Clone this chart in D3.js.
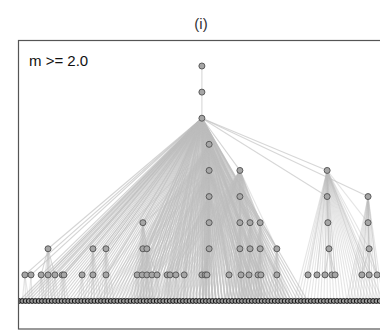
<!DOCTYPE html>
<html>
<head>
<meta charset="utf-8">
<script src="https://cdn.jsdelivr.net/npm/d3@7"></script>
<style>
  html, body { margin: 0; padding: 0; background: #fff; }
  svg { display: block; font-family: "Liberation Sans", Arial, sans-serif; }
</style>
</head>
<body>
<div id="chart"></div>
<script>
// node positions per level, in layout units (0-100 across the panel)
const level0 = [50.8];
const level1 = [50.8];
const level2 = [50.8];
const level3 = [52.8];
const level4 = [52.8, 61.3, 85.4];
const level5 = [52.8, 61.3, 85.4, 96.7];
const level6 = [34.5, 52.8, 61.3, 64.1, 66.9, 85.6, 96.7];
const level7 = [8.3, 20.7, 24.3, 34.5, 35.6, 52.8, 61.3, 64.1, 66.9, 71.5, 85.9, 97.0];
const level8 = [1.9, 3.6, 6.4, 8.3, 10.2, 12.2, 12.7, 17.7, 20.7, 24.3, 32.9, 34.3, 35.6, 37.0,
  38.4, 41.2, 42.0, 43.6, 45.9, 50.8, 51.7, 52.2, 58.3, 61.6, 63.8, 66.3, 67.1, 71.5,
  80.1, 82.6, 84.8, 86.7, 87.6, 95.0, 97.0, 99.2];
const leafCount = 112;
const upperLevels = [level0, level1, level2, level3, level4, level5, level6, level7, level8];

// which leaves each spreading node links to: [level, position, from, to]
const fans = [
  [2, 50.8, 0, 80],
  [3, 52.8, 22, 76],
  [4, 52.8, 32, 70],
  [4, 61.3, 42, 76],
  [5, 52.8, 38, 64],
  [4, 85.4, 76, 101],
  [5, 96.7, 90, 101]
];

const width = 380, height = 331;
const svg = d3.select('#chart').append('svg').attr('width', width).attr('height', height);

const x = d3.scaleLinear().domain([0, 100]).range([18, 380]);
const y = d3.scaleLinear().domain([0, 9]).range([66, 301]);
const leafX = d3.scalePoint().domain(d3.range(leafCount)).range([19, 383]);

const nodes = [];
upperLevels.forEach((lv, i) => lv.forEach(p => nodes.push({ level: i, pos: p, cx: x(p), cy: y(i) })));
const leaves = d3.range(leafCount).map(k => ({ level: 9, pos: x.invert(leafX(k)), cx: leafX(k), cy: y(9) }));
const find = (lv, p) => nodes.find(n => n.level === lv && n.pos === p);

const links = [];
// tree edges: straight down to a node one level up in the same column
nodes.filter(n => n.level > 0).forEach(n => {
  const ups = nodes.filter(m => m.level === n.level - 1);
  const p = d3.least(ups, m => Math.abs(m.pos - n.pos));
  if (Math.abs(p.pos - n.pos) < 3 || n.level <= 3) links.push({ s: p, t: n, w: 'tree' });
});
const hub = find(2, 50.8);
nodes.filter(n => n.level >= 4 && n.pos <= 72).forEach(n => links.push({ s: hub, t: n, w: 'hub' }));
nodes.filter(n => n.level >= 4 && n.level <= 5 && n.pos > 80).forEach(n => links.push({ s: hub, t: n, w: 'tree' }));
fans.forEach(([lv, p, from, to]) => {
  const src = find(lv, p);
  nodes.filter(n => n.level > lv + 1 && n.level < 9 && lv !== 2 && n.pos >= from && n.pos <= to)
    .forEach(n => links.push({ s: src, t: n, w: 'side' }));
  leaves.filter(l => l.pos >= from && l.pos <= to).forEach(l => links.push({ s: src, t: l, w: lv === 2 ? 'hub' : 'side' }));
});
// lower nodes fan out to the leaves just beneath them
nodes.filter(n => n.level >= 6 && n.level <= 8 && n.pos < 80).forEach(n => {
  const span = (9 - n.level) * 1.2;
  leaves.filter(l => Math.abs(l.pos - n.pos) <= span).forEach(l => links.push({ s: n, t: l, w: 'side' }));
});

const opacity = { hub: 0.65, tree: 0.6, side: 0.4 };

svg.append('defs').append('clipPath').attr('id', 'clip')
  .append('rect').attr('x', 18).attr('y', 40).attr('width', 370).attr('height', 289);

const plot = svg.append('g').attr('clip-path', 'url(#clip)');

plot.append('g').selectAll('line').data(links).join('line')
  .attr('x1', d => d.s.cx).attr('y1', d => d.s.cy)
  .attr('x2', d => d.t.cx).attr('y2', d => d.t.cy)
  .attr('stroke', '#bdbdbd').attr('stroke-opacity', d => opacity[d.w]).attr('stroke-width', 1.1);

plot.append('g').selectAll('circle').data(leaves).join('circle')
  .attr('cx', d => d.cx).attr('cy', d => d.cy).attr('r', 2.4)
  .attr('fill', '#9a9a9a').attr('stroke', '#111').attr('stroke-width', 1);

plot.append('g').selectAll('circle').data(nodes).join('circle')
  .attr('cx', d => d.cx).attr('cy', d => d.cy).attr('r', 3)
  .attr('fill', '#a6a6a6').attr('stroke', '#5a5a5a').attr('stroke-width', 1);

svg.append('rect').attr('x', 18.5).attr('y', 40.5).attr('width', 380).attr('height', 288.5)
  .attr('fill', 'none').attr('stroke', '#555').attr('stroke-width', 1.2);

svg.append('text').attr('x', 201).attr('y', 29).attr('text-anchor', 'middle')
  .attr('font-size', 15).attr('fill', '#333').text('(i)');
svg.append('text').attr('x', 29).attr('y', 66)
  .attr('font-size', 15).attr('fill', '#111').text('m >= 2.0');
</script>
</body>
</html>
